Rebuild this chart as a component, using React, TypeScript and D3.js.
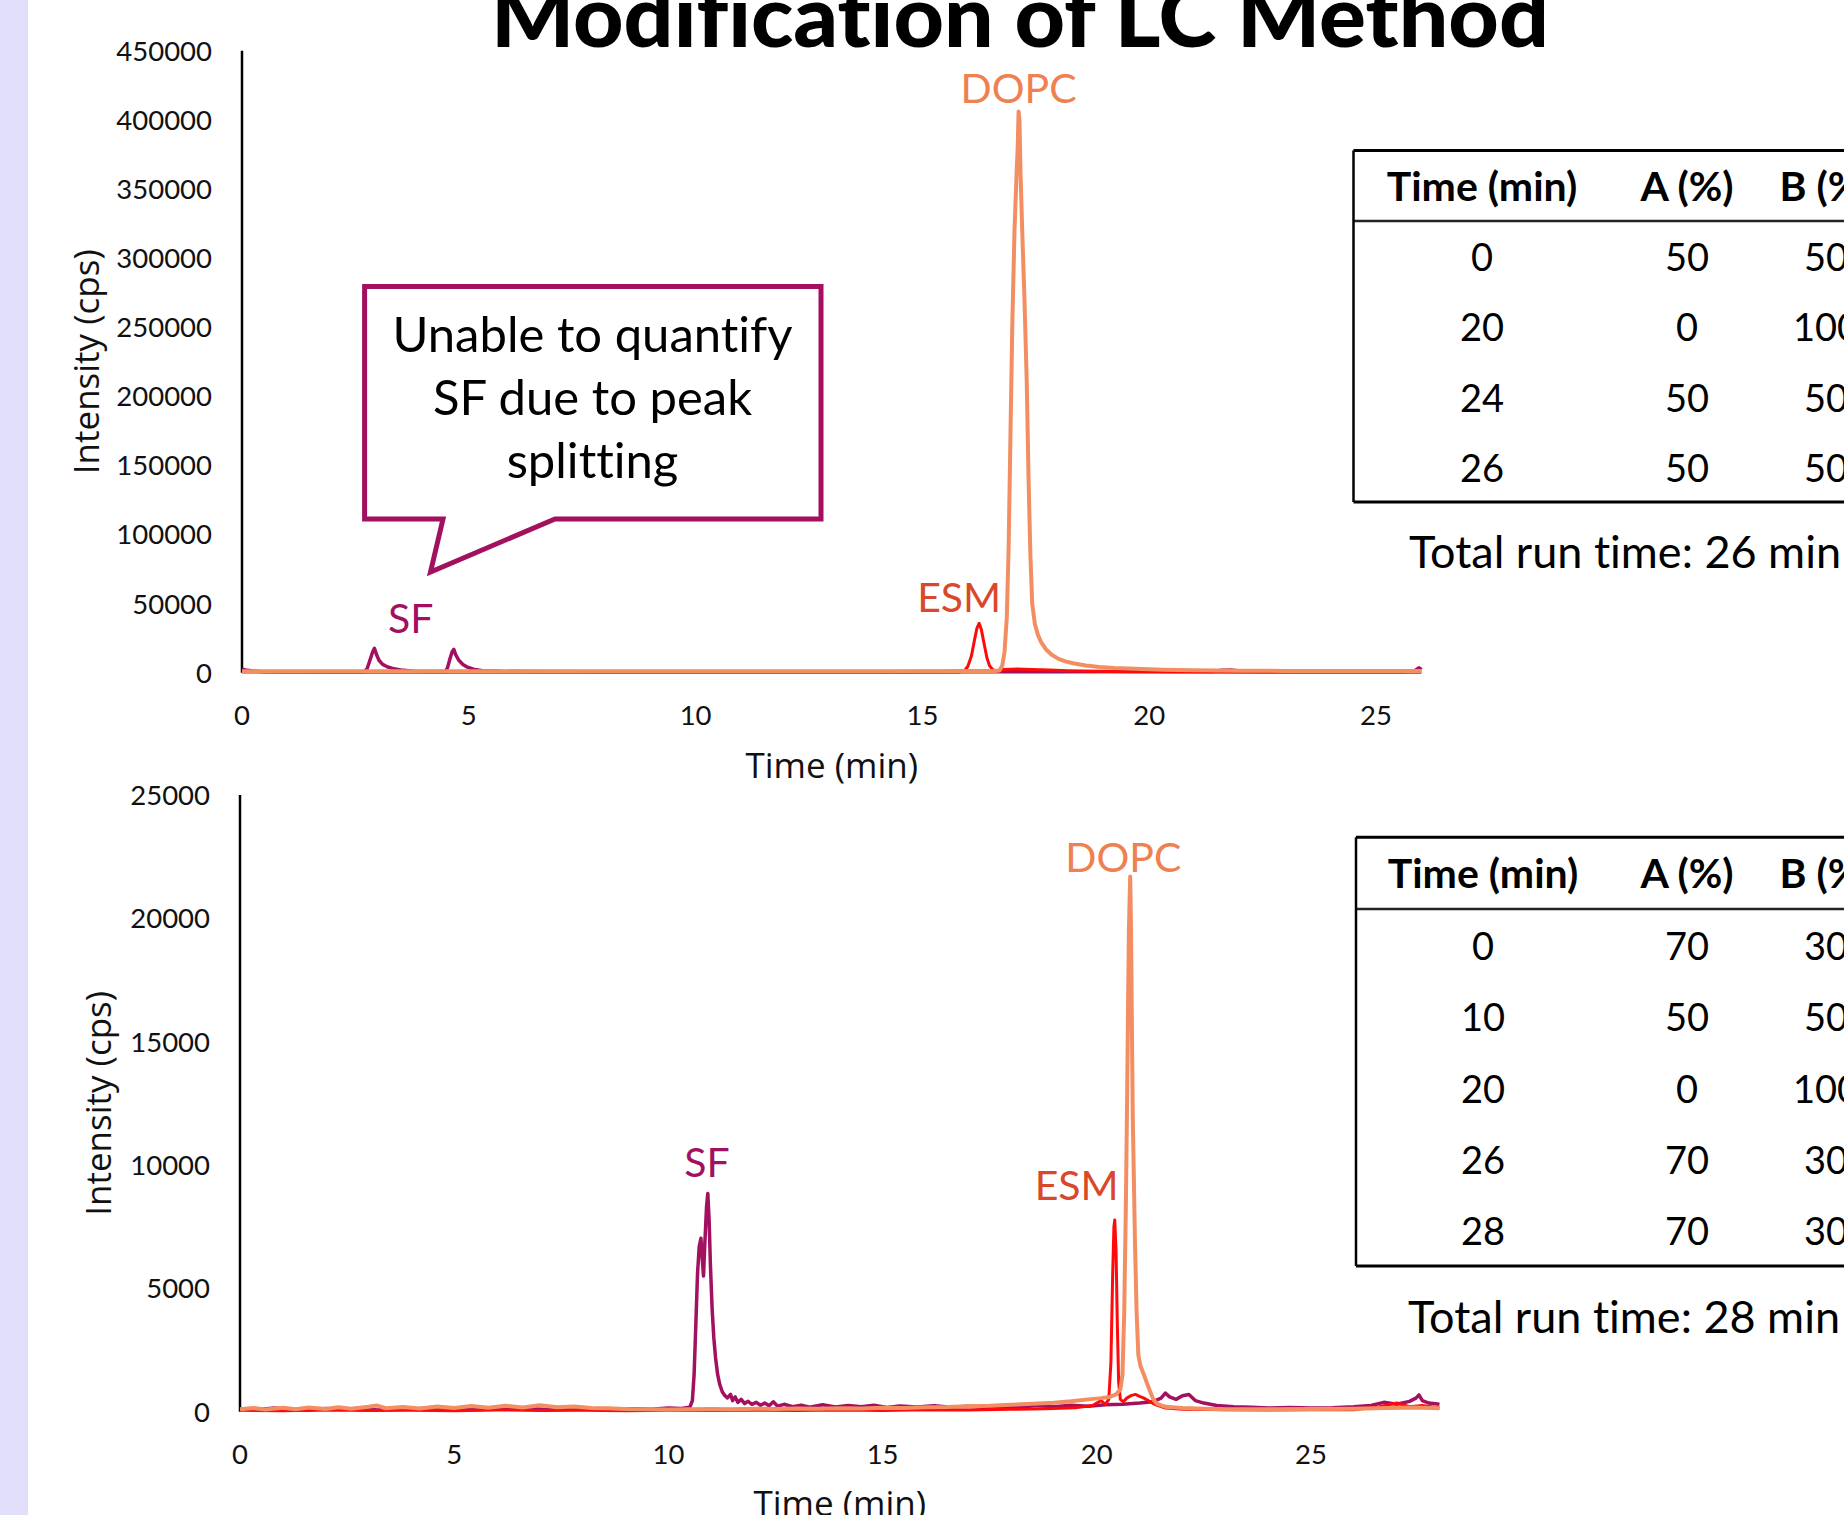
import React from 'react';
import * as d3 from 'd3';

// ---------- data ----------
// top chromatogram: original LC method, 0-26 min
const topYTicks = [0, 50000, 100000, 150000, 200000, 250000, 300000, 350000, 400000, 450000];
const topXTicks = [0, 5, 10, 15, 20, 25];

const topSF: [number, number][] = [
  [0, 2600], [0.08, 2000], [0.2, 1400], [0.4, 900], [0.8, 700], [1.5, 600], [2.2, 600], [2.7, 700],
  [2.76, 3000], [2.82, 9000], [2.88, 15000], [2.92, 17700], [2.96, 13500], [3.02, 9000], [3.1, 6000],
  [3.2, 4300], [3.35, 2800], [3.5, 1900], [3.8, 1100], [4.2, 800], [4.48, 800], [4.53, 3500],
  [4.58, 9500], [4.63, 15000], [4.67, 16900], [4.71, 13000], [4.78, 9000], [4.87, 6000], [4.97, 4000],
  [5.1, 2500], [5.3, 1500], [5.7, 1000], [6.5, 800], [8, 700], [10, 700], [12, 700], [14, 700],
  [16, 700], [18, 700], [20, 800], [21.4, 900], [21.6, 1800], [21.8, 2000], [22.0, 1300], [22.4, 900],
  [24, 800], [25.6, 800], [25.85, 1500], [25.95, 3500], [26, 2200],
];
const topESM: [number, number][] = [
  [0, 500], [2, 400], [5, 400], [8, 400], [10, 400], [12, 400], [14, 400], [15.8, 500], [15.92, 1200],
  [16.0, 4500], [16.08, 12000], [16.15, 24000], [16.2, 32000], [16.25, 35700], [16.3, 31000],
  [16.36, 21000], [16.42, 11000], [16.48, 5000], [16.55, 2200], [16.62, 1500], [16.8, 2300],
  [17.1, 2600], [17.4, 2400], [17.8, 2000], [18.2, 1500], [18.8, 1000], [19.5, 700], [20.5, 500],
  [22, 400], [24, 400], [26, 400],
];
const topDOPC: [number, number][] = [
  [0, 1000], [1, 1000], [3, 1000], [5, 1000], [8, 1100], [10, 1100], [12, 1100], [14, 1100], [16, 1200],
  [16.6, 1300], [16.7, 1600], [16.76, 5000], [16.81, 15000], [16.86, 40000], [16.9, 90000],
  [16.94, 170000], [16.98, 250000], [17.03, 320000], [17.08, 365000], [17.1, 380000], [17.12, 406000],
  [17.14, 400000], [17.16, 365000], [17.2, 320000], [17.25, 270000], [17.3, 210000], [17.34, 140000],
  [17.38, 85000], [17.42, 50000], [17.48, 35000], [17.55, 27000], [17.62, 22000], [17.72, 17000],
  [17.85, 13000], [18.0, 10000], [18.15, 8200], [18.32, 6800], [18.6, 5200], [18.9, 4200],
  [19.23, 3400], [19.7, 2800], [20.3, 2200], [21, 1800], [22, 1500], [23, 1300], [24.5, 1200], [26, 1200],
];

// bottom chromatogram: modified LC method, 0-28 min
const botYTicks = [0, 5000, 10000, 15000, 20000, 25000];
const botXTicks = [0, 5, 10, 15, 20, 25];

const botSF: [number, number][] = [
  [0, 120], [0.4, 80], [0.8, 150], [1.2, 100], [1.6, 60], [2, 130], [2.4, 90], [2.8, 140], [3.2, 70],
  [3.6, 120], [4, 100], [4.4, 150], [4.8, 80], [5.2, 120], [5.6, 90], [6, 140], [6.4, 100], [6.8, 130],
  [7.2, 80], [7.6, 110], [8, 90], [8.4, 130], [8.8, 80], [9.2, 120], [9.6, 100], [10, 150], [10.3, 130],
  [10.5, 180], [10.56, 450], [10.6, 1500], [10.64, 3500], [10.68, 5600], [10.72, 6700], [10.76, 7030],
  [10.79, 6200], [10.82, 5500], [10.85, 6800], [10.89, 8300], [10.92, 8850], [10.95, 7800], [10.98, 6000],
  [11.02, 4200], [11.06, 3000], [11.1, 2200], [11.15, 1500], [11.2, 1100], [11.26, 800], [11.32, 650],
  [11.38, 560], [11.45, 700], [11.5, 450], [11.56, 600], [11.62, 380], [11.7, 500], [11.78, 330],
  [11.86, 420], [11.95, 300], [12.05, 380], [12.15, 260], [12.25, 350], [12.35, 240], [12.45, 400],
  [12.55, 220], [12.7, 300], [12.9, 200], [13.1, 260], [13.3, 180], [13.6, 280], [13.9, 190], [14.2, 250],
  [14.5, 200], [14.8, 260], [15.1, 170], [15.4, 230], [15.8, 190], [16.2, 240], [16.6, 180], [17, 220],
  [17.4, 170], [17.8, 230], [18.2, 180], [18.6, 250], [19, 200], [19.4, 260], [19.8, 220], [20.2, 280],
  [20.6, 300], [21, 350], [21.3, 400], [21.5, 550], [21.6, 750], [21.7, 600], [21.85, 500], [22, 650],
  [22.15, 700], [22.3, 450], [22.5, 350], [22.8, 250], [23.2, 200], [23.6, 180], [24, 150], [24.5, 170],
  [25, 150], [25.5, 160], [26, 200], [26.4, 250], [26.7, 380], [27, 300], [27.3, 420], [27.45, 550],
  [27.52, 680], [27.6, 450], [27.75, 350], [28, 300],
];
const botESM: [number, number][] = [
  [0, 60], [1, 40], [2, 70], [3, 50], [4, 60], [5, 40], [6, 70], [7, 50], [8, 60], [9, 40], [10, 60],
  [11, 50], [12, 60], [13, 50], [14, 70], [15, 50], [16, 80], [17, 70], [18, 100], [18.8, 120],
  [19.5, 160], [19.9, 250], [20.1, 450], [20.2, 300], [20.28, 500], [20.33, 2000], [20.37, 5500],
  [20.4, 7500], [20.42, 7770], [20.45, 6500], [20.48, 3500], [20.51, 1200], [20.55, 500], [20.62, 400],
  [20.7, 550], [20.8, 650], [20.9, 700], [21.0, 620], [21.1, 550], [21.2, 450], [21.35, 300],
  [21.6, 150], [22, 100], [23, 80], [24, 70], [25, 80], [26, 80], [26.6, 200], [27, 350], [27.3, 200],
  [27.6, 250], [28, 150],
];
const botDOPC: [number, number][] = [
  [0, 100], [0.3, 150], [0.6, 90], [1, 160], [1.3, 100], [1.6, 170], [2, 110], [2.3, 180], [2.6, 120],
  [3, 200], [3.2, 250], [3.4, 140], [3.8, 190], [4.2, 130], [4.6, 210], [5, 150], [5.4, 230], [5.8, 160],
  [6.2, 240], [6.6, 170], [7, 260], [7.4, 180], [7.8, 210], [8.2, 150], [8.6, 140], [9, 110], [9.5, 100],
  [10, 90], [10.5, 100], [11, 110], [11.5, 100], [12, 120], [12.5, 110], [13, 130], [13.5, 120],
  [14, 140], [14.5, 130], [15, 160], [15.5, 150], [16, 180], [16.5, 190], [17, 220], [17.5, 240],
  [18, 280], [18.5, 320], [19, 360], [19.4, 420], [19.8, 500], [20.1, 550], [20.3, 600], [20.45, 700],
  [20.55, 900], [20.6, 1500], [20.64, 4000], [20.68, 8500], [20.71, 13000], [20.73, 16500],
  [20.75, 19500], [20.77, 21000], [20.78, 21700], [20.8, 19500], [20.82, 15500], [20.84, 12000],
  [20.86, 10000], [20.89, 7000], [20.93, 4000], [20.97, 2300], [21.02, 1850], [21.1, 1500],
  [21.17, 1160], [21.25, 800], [21.32, 500], [21.4, 330], [21.6, 200], [22, 150], [22.5, 120],
  [23, 100], [24, 100], [25, 110], [26, 120], [26.8, 150], [27.4, 170], [28, 140],
];

// gradient tables
const tableHeader = ['Time (min)', 'A (%)', 'B (%)'];
const topGradTime = ['0', '20', '24', '26'];
const topGradA = ['50', '0', '50', '50'];
const topGradB = ['50', '100', '50', '50'];
const botGradTime = ['0', '10', '20', '26', '28'];
const botGradA = ['70', '50', '0', '70', '70'];
const botGradB = ['30', '50', '100', '30', '30'];

const PURPLE = '#A2105F';
const RED = '#FF0A0A';
const ORANGE = '#F38E62';
const ESM_LABEL = '#D9482B';
const DOPC_LABEL = '#EF804F';
const CAL = "Lato, 'Open Sans', sans-serif";
const SEG = "'Open Sans', 'Noto Sans', sans-serif";
const NOLIG = { fontVariantLigatures: 'none', fontFeatureSettings: '"liga" 0, "clig" 0' } as React.CSSProperties;

function Chromatogram({ xMax, yMax, x0, x1, y0, y1, xTicks, yTicks, series, labels, yTitle, xTitle }) {
  const x = d3.scaleLinear().domain([0, xMax]).range([x0, x1]);
  const y = d3.scaleLinear().domain([0, yMax]).range([y0, y1]);
  const line = d3.line<[number, number]>().x(d => x(d[0])).y(d => y(d[1]));
  return (
    <g>
      <line x1={x0} x2={x0} y1={y(yMax)} y2={y(0)} stroke="#000" strokeWidth={2.5} />
      {yTicks.map(t => (
        <text key={t} x={x0 - 30} y={y(t)} dy="0.36em" textAnchor="end" fontFamily={CAL} fontSize={27.5} fill="#111">{t}</text>
      ))}
      {xTicks.map(t => (
        <text key={t} x={x(t)} y={y0 + 42} dy="0.36em" textAnchor="middle" fontFamily={CAL} fontSize={27.5} fill="#111">{t}</text>
      ))}
      {series.map(s => (
        <path key={s.name} d={line(s.data) || ''} fill="none" stroke={s.color} strokeWidth={s.width} strokeLinejoin="round" />
      ))}
      {labels.map(l => (
        <text key={l.text} x={x(l.t)} y={l.y} textAnchor="middle" fontFamily={CAL} fontSize={41} fill={l.color}>{l.text}</text>
      ))}
      <text transform={`translate(${yTitle.x},${(y0 + y(yMax)) / 2}) rotate(-90)`} textAnchor="middle" fontFamily={SEG} fontSize={35} fill="#111">Intensity (cps)</text>
      <text x={(x0 + x1) / 2} y={xTitle} textAnchor="middle" fontFamily={SEG} fontSize={35} fill="#111">Time (min)</text>
    </g>
  );
}

function GradientTable({ left, top, headLine, bottom, cols, times, aVals, bVals, total, totalX, totalY }) {
  const rows = d3.scaleBand<number>().domain(times.map((_, i) => i)).range([headLine, bottom]);
  const headY = (top + headLine) / 2 + 15;
  const cells = [times, aVals, bVals];
  return (
    <g fontFamily={CAL} fill="#000">
      <line x1={left} x2={1900} y1={top} y2={top} stroke="#000" strokeWidth={3} />
      <line x1={left} x2={1900} y1={headLine} y2={headLine} stroke="#222" strokeWidth={2.5} />
      <line x1={left} x2={1900} y1={bottom} y2={bottom} stroke="#000" strokeWidth={3} />
      <line x1={left} x2={left} y1={top} y2={bottom} stroke="#000" strokeWidth={2.5} />
      {tableHeader.map((h, c) => (
        <text key={h} x={cols[c]} y={headY} textAnchor="middle" fontSize={41} fontWeight={700}>{h}</text>
      ))}
      {cells.map((col, c) => col.map((v, i) => (
        <text key={c + '-' + i} x={cols[c]} y={(rows(i) || 0) + rows.bandwidth() / 2 + 15} textAnchor="middle" fontSize={38}>{v}</text>
      )))}
      <text x={totalX} y={totalY} fontSize={45}>{total}</text>
    </g>
  );
}

export default function App() {
  return (
    <div style={{ position: 'absolute', left: 0, top: 0, width: 1844, height: 1515, overflow: 'hidden', background: '#fff' }}>
      <style>{'body{margin:0;overflow:hidden;} svg text{font-variant-ligatures:none;font-feature-settings:"liga" 0,"clig" 0;}'}</style>
      <svg width={1844} height={1515} style={{ display: 'block', ...NOLIG }}>
        <rect x={0} y={0} width={1844} height={1515} fill="#fff" />
        <rect x={0} y={0} width={28} height={1515} fill="#E1DFFC" />
        <text x={1020} y={47} textAnchor="middle" fontFamily={CAL} fontWeight={900} fontSize={86} textLength={1058} lengthAdjust="spacingAndGlyphs" fill="#000" style={NOLIG}>Modification of LC Method</text>

        <Chromatogram
          xMax={26} yMax={450000} x0={242} x1={1421.4} y0={672.7} y1={50.8}
          xTicks={topXTicks} yTicks={topYTicks}
          series={[
            { name: 'SF', data: topSF, color: PURPLE, width: 3.5 },
            { name: 'ESM', data: topESM, color: RED, width: 3 },
            { name: 'DOPC', data: topDOPC, color: ORANGE, width: 4 },
          ]}
          labels={[
            { text: 'SF', t: 3.72, y: 633, color: PURPLE },
            { text: 'ESM', t: 15.81, y: 611.7, color: ESM_LABEL },
            { text: 'DOPC', t: 17.12, y: 102.7, color: DOPC_LABEL },
          ]}
          yTitle={{ x: 99 }} xTitle={778}
        />

        <path d="M364.6,286.5 H821 V519 H555 L430.5,572 L443,519 H364.6 Z" fill="#fff" stroke={PURPLE} strokeWidth={5} />
        <g fontFamily={CAL} fontSize={49} fill="#000" textAnchor="middle">
          <text x={592.5} y={352}>Unable to quantify</text>
          <text x={592.5} y={415}>SF due to peak</text>
          <text x={592.5} y={478.3}>splitting</text>
        </g>

        <GradientTable left={1353.5} top={150.5} headLine={221} bottom={502} cols={[1482, 1687, 1826]}
          times={topGradTime} aVals={topGradA} bVals={topGradB}
          total="Total run time: 26 min" totalX={1409} totalY={568} />

        <Chromatogram
          xMax={28} yMax={25000} x0={240} x1={1439.5} y0={1411.7} y1={795}
          xTicks={botXTicks} yTicks={botYTicks}
          series={[
            { name: 'SF', data: botSF, color: PURPLE, width: 3.5 },
            { name: 'ESM', data: botESM, color: RED, width: 3 },
            { name: 'DOPC', data: botDOPC, color: ORANGE, width: 4 },
          ]}
          labels={[
            { text: 'SF', t: 10.9, y: 1176.7, color: PURPLE },
            { text: 'ESM', t: 19.53, y: 1200, color: ESM_LABEL },
            { text: 'DOPC', t: 20.62, y: 871.7, color: DOPC_LABEL },
          ]}
          yTitle={{ x: 111 }} xTitle={1516}
        />

        <GradientTable left={1356} top={837.3} headLine={909} bottom={1266} cols={[1483, 1687, 1826]}
          times={botGradTime} aVals={botGradA} bVals={botGradB}
          total="Total run time: 28 min" totalX={1408} totalY={1333} />
      </svg>
    </div>
  );
}
